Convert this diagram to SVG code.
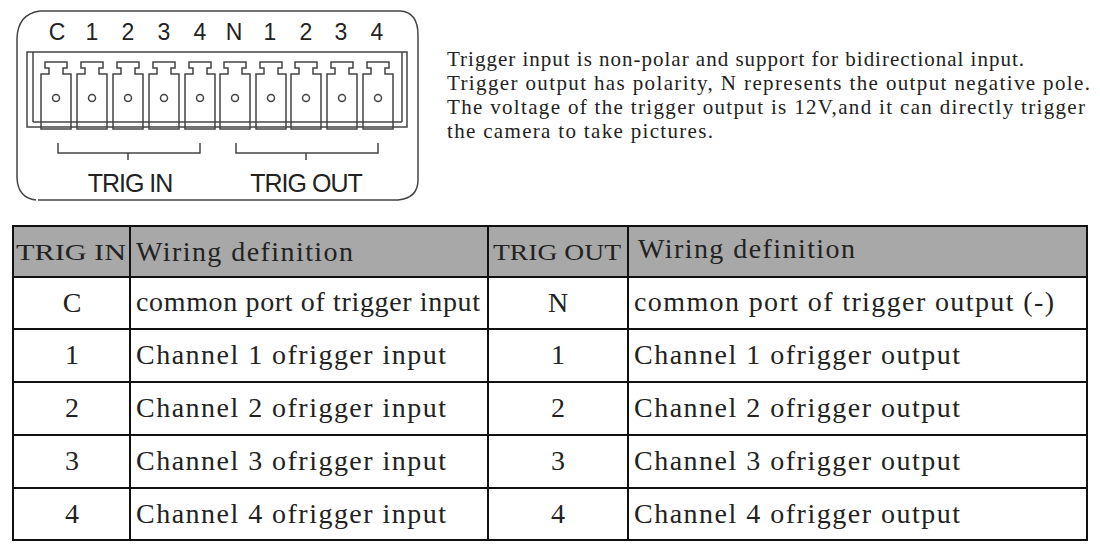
<svg xmlns="http://www.w3.org/2000/svg" width="1100" height="550" viewBox="0 0 1100 550">
<style>
.s{font-family:"Liberation Serif",serif;fill:#222}
.p{font-family:"Liberation Sans",Arial,sans-serif;fill:#222}
.g{fill:none;stroke:#444;stroke-width:1.5}
.t{stroke:#111;stroke-width:2;fill:none}
</style>
<defs>
<g id="cell"><path class="g" d="M0,12 h8 v-6 h-4 v-6 h22 v6 h-4 v6 h8 v55 h-30 z"/><circle cx="15" cy="36" r="3.5" class="g"/></g>
</defs>
<rect width="1100" height="550" fill="#fff"/>
<g id="connector">
<path class="g" d="M40,11 H400 Q418,12 418,35 V180 Q418,198 398,200 M38,200 H398 M40,11 Q18,14 17,38 V178 Q18,198 36,200"/>
<g class="p" font-size="23" text-anchor="middle">
<text x="57" y="40">C</text><text x="92" y="40">1</text><text x="128" y="40">2</text><text x="164" y="40">3</text><text x="200" y="40">4</text><text x="234" y="40">N</text><text x="270" y="40">1</text><text x="306" y="40">2</text><text x="341" y="40">3</text><text x="377" y="40">4</text>
</g>
<rect x="27" y="52" width="380" height="75" class="g"/>
<line x1="33" y1="122" x2="402" y2="122" class="g"/>
<line x1="33" y1="52" x2="33" y2="122" class="g"/>
<line x1="402" y1="52" x2="402" y2="122" class="g"/>
<use href="#cell" x="41" y="62"/><use href="#cell" x="77" y="62"/><use href="#cell" x="113" y="62"/><use href="#cell" x="149" y="62"/><use href="#cell" x="185" y="62"/><use href="#cell" x="220" y="62"/><use href="#cell" x="256" y="62"/><use href="#cell" x="291" y="62"/><use href="#cell" x="327" y="62"/><use href="#cell" x="363" y="62"/>
<path class="g" d="M58,143 V153 H200 V143 M128,153 V160 M236,143 V153 H378 V143 M306,153 V160"/>
<text x="130" y="192" class="p" font-size="25" text-anchor="middle" letter-spacing="-1">TRIG IN</text>
<text x="306" y="192" class="p" font-size="25" text-anchor="middle" letter-spacing="-1">TRIG OUT</text>
</g>
<g id="notes" class="s" font-size="21" fill="#333">
<text x="447" y="66" textLength="577">Trigger input is non-polar and support for bidirectional input.</text>
<text x="447" y="90" textLength="643">Trigger output has polarity, N represents the output negative pole.</text>
<text x="447" y="114" textLength="638">The voltage of the trigger output is 12V,and it can directly trigger</text>
<text x="447" y="138" textLength="266">the camera to take pictures.</text>
</g>
<g id="table">
<rect x="13" y="226" width="1074" height="51" fill="#a8a8a8"/>
<rect x="13" y="226" width="1074" height="314" class="t"/>
<path class="t" d="M13,277 H1087 M13,329 H1087 M13,382 H1087 M13,435 H1087 M13,488 H1087 M130,226 V540 M488,226 V540 M628,226 V540"/>
<g class="s" font-size="28">
<text x="16" y="260" font-size="24" textLength="110" lengthAdjust="spacingAndGlyphs">TRIG IN</text>
<text x="136" y="261" textLength="217">Wiring definition</text>
<text x="493" y="260" font-size="24" textLength="128" lengthAdjust="spacingAndGlyphs">TRIG OUT</text>
<text x="638" y="258" textLength="217">Wiring definition</text>
<g text-anchor="middle">
<text x="72" y="312">C</text><text x="72" y="364">1</text><text x="72" y="417">2</text><text x="72" y="470">3</text><text x="72" y="523">4</text>
<text x="558" y="312">N</text><text x="558" y="364">1</text><text x="558" y="417">2</text><text x="558" y="470">3</text><text x="558" y="523">4</text>
</g>
<text x="136" y="311" textLength="344">common port of trigger input</text>
<text x="136" y="364" textLength="310">Channel 1 ofrigger input</text>
<text x="136" y="417" textLength="310">Channel 2 ofrigger input</text>
<text x="136" y="470" textLength="310">Channel 3 ofrigger input</text>
<text x="136" y="523" textLength="310">Channel 4 ofrigger input</text>
<text x="634" y="311" textLength="420">common port of trigger output (-)</text>
<text x="634" y="364" textLength="326">Channel 1 ofrigger output</text>
<text x="634" y="417" textLength="326">Channel 2 ofrigger output</text>
<text x="634" y="470" textLength="326">Channel 3 ofrigger output</text>
<text x="634" y="523" textLength="326">Channel 4 ofrigger output</text>
</g>
</g>
</svg>
